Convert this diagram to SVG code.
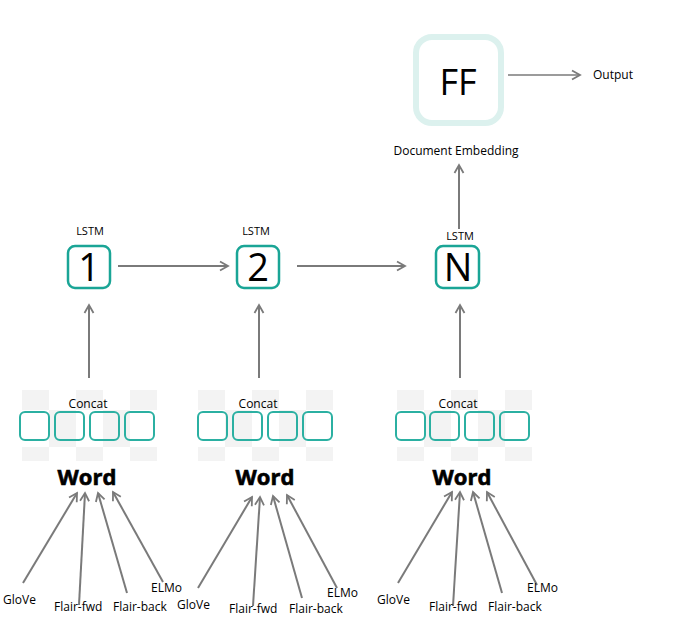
<svg xmlns="http://www.w3.org/2000/svg" width="675" height="617" viewBox="0 0 675 617">
<style>
text{font-family:"Open Sans","Noto Sans","Liberation Sans",sans-serif;fill:#000}
.lbl{font-size:12px}
.sm{font-size:11px}
.word{font-size:22px;font-weight:700;stroke:#000;stroke-width:0.6}
.big{font-size:38px}
.cell{fill:none;stroke:#2bb0a2;stroke-width:2}
.lstm{fill:#fff;stroke:#1aa596;stroke-width:2.5}
.conn{stroke:#7a7a7a;stroke-width:2;fill:none}
.thin{stroke:#7a7a7a;stroke-width:1.5;fill:none}
.chk{fill:#f3f3f3}
</style>
<defs>
<marker id="ah" markerWidth="12" markerHeight="12" refX="9" refY="5" orient="auto" markerUnits="userSpaceOnUse" viewBox="0 0 12 10">
<path d="M1,0.5 L9,5 L1,9.5" fill="none" stroke="#7a7a7a" stroke-width="1.8"/>
</marker>
<g id="checker">
<rect class="chk" x="0" y="0" width="27" height="20"/>
<rect class="chk" x="54" y="0" width="27" height="20"/>
<rect class="chk" x="108" y="0" width="27" height="20"/>
<rect class="chk" x="27" y="20" width="27" height="37"/>
<rect class="chk" x="81" y="20" width="27" height="37"/>
<rect class="chk" x="0" y="57" width="27" height="14"/>
<rect class="chk" x="54" y="57" width="27" height="14"/>
<rect class="chk" x="108" y="57" width="27" height="14"/>
</g>
</defs>
<rect width="675" height="617" fill="#fff"/>

<g id="connectors">
<line class="conn" x1="118" y1="266" x2="228" y2="266" marker-end="url(#ah)"/>
<line class="conn" x1="297" y1="266" x2="405" y2="266" marker-end="url(#ah)"/>
<line class="conn" x1="89" y1="378" x2="89" y2="305" marker-end="url(#ah)"/>
<line class="conn" x1="259" y1="378" x2="259" y2="305" marker-end="url(#ah)"/>
<line class="conn" x1="460" y1="378" x2="460" y2="305" marker-end="url(#ah)"/>
<line class="conn" x1="459" y1="229" x2="459" y2="165" marker-end="url(#ah)"/>
<line class="thin" x1="508" y1="75" x2="580" y2="75" marker-end="url(#ah)"/>
<line class="conn" x1="23" y1="583" x2="77" y2="493" marker-end="url(#ah)"/>
<line class="conn" x1="79" y1="605" x2="85" y2="493" marker-end="url(#ah)"/>
<line class="conn" x1="127" y1="593" x2="98" y2="493" marker-end="url(#ah)"/>
<line class="conn" x1="163" y1="582" x2="113" y2="492" marker-end="url(#ah)"/>
<line class="conn" x1="198" y1="588" x2="252" y2="497" marker-end="url(#ah)"/>
<line class="conn" x1="253" y1="606" x2="260" y2="497" marker-end="url(#ah)"/>
<line class="conn" x1="302" y1="598" x2="273" y2="496" marker-end="url(#ah)"/>
<line class="conn" x1="337" y1="588" x2="287" y2="495" marker-end="url(#ah)"/>
<line class="conn" x1="398" y1="583" x2="452" y2="492" marker-end="url(#ah)"/>
<line class="conn" x1="453" y1="606" x2="460" y2="492" marker-end="url(#ah)"/>
<line class="conn" x1="502" y1="593" x2="473" y2="492" marker-end="url(#ah)"/>
<line class="conn" x1="537" y1="585" x2="487" y2="492" marker-end="url(#ah)"/>
</g>

<g id="ff">
<rect x="416" y="37" width="85" height="86" rx="16" fill="#fff" stroke="#dcf1ee" stroke-width="6"/>
<text x="458" y="95" font-size="36" text-anchor="middle">FF</text>
</g>
<g id="output"><text class="lbl" x="593" y="79">Output</text></g>
<g id="doc-embedding"><text class="lbl" x="456" y="155" text-anchor="middle">Document Embedding</text></g>

<g id="lstm1">
<text class="sm" x="90" y="235" text-anchor="middle">LSTM</text>
<rect class="lstm" x="68" y="246" width="42" height="42" rx="7"/>
<text class="big" x="89" y="281" text-anchor="middle">1</text>
</g>
<g id="lstm2">
<text class="sm" x="256" y="235" text-anchor="middle">LSTM</text>
<rect class="lstm" x="237" y="246" width="42" height="42" rx="7"/>
<text class="big" x="258" y="281" text-anchor="middle">2</text>
</g>
<g id="lstmN">
<text class="sm" x="460" y="240" text-anchor="middle">LSTM</text>
<rect class="lstm" x="436" y="246" width="43" height="42" rx="7"/>
<text class="big" x="458" y="281" text-anchor="middle">N</text>
</g>

<g id="concat1">
<use href="#checker" x="22" y="390"/>
<text class="lbl" x="88" y="408" text-anchor="middle">Concat</text>
<rect class="cell" x="20" y="412" width="29" height="28" rx="5"/>
<rect class="cell" x="55" y="412" width="29" height="28" rx="5"/>
<rect class="cell" x="90" y="412" width="29" height="28" rx="5"/>
<rect class="cell" x="125" y="412" width="29" height="28" rx="5"/>
</g>
<g id="concat2">
<use href="#checker" x="198" y="390"/>
<text class="lbl" x="258" y="408" text-anchor="middle">Concat</text>
<rect class="cell" x="198" y="412" width="29" height="28" rx="5"/>
<rect class="cell" x="233" y="412" width="29" height="28" rx="5"/>
<rect class="cell" x="268" y="412" width="29" height="28" rx="5"/>
<rect class="cell" x="303" y="412" width="29" height="28" rx="5"/>
</g>
<g id="concat3">
<use href="#checker" x="397" y="390"/>
<text class="lbl" x="458" y="408" text-anchor="middle">Concat</text>
<rect class="cell" x="396" y="412" width="29" height="28" rx="5"/>
<rect class="cell" x="430" y="412" width="29" height="28" rx="5"/>
<rect class="cell" x="465" y="412" width="29" height="28" rx="5"/>
<rect class="cell" x="500" y="412" width="29" height="28" rx="5"/>
</g>

<g id="word1"><text class="word" x="87" y="485" text-anchor="middle">Word</text></g>
<g id="word2"><text class="word" x="265" y="485" text-anchor="middle">Word</text></g>
<g id="word3"><text class="word" x="462" y="485" text-anchor="middle">Word</text></g>

<g id="emb1">
<text class="lbl" x="3" y="604">GloVe</text>
<text class="lbl" x="54" y="611">Flair-fwd</text>
<text class="lbl" x="113" y="611">Flair-back</text>
<text class="lbl" x="151" y="592">ELMo</text>
</g>
<g id="emb2">
<text class="lbl" x="177" y="609">GloVe</text>
<text class="lbl" x="229" y="613">Flair-fwd</text>
<text class="lbl" x="289" y="613">Flair-back</text>
<text class="lbl" x="327" y="597">ELMo</text>
</g>
<g id="emb3">
<text class="lbl" x="377" y="604">GloVe</text>
<text class="lbl" x="429" y="611">Flair-fwd</text>
<text class="lbl" x="488" y="611">Flair-back</text>
<text class="lbl" x="527" y="592">ELMo</text>
</g>
</svg>
